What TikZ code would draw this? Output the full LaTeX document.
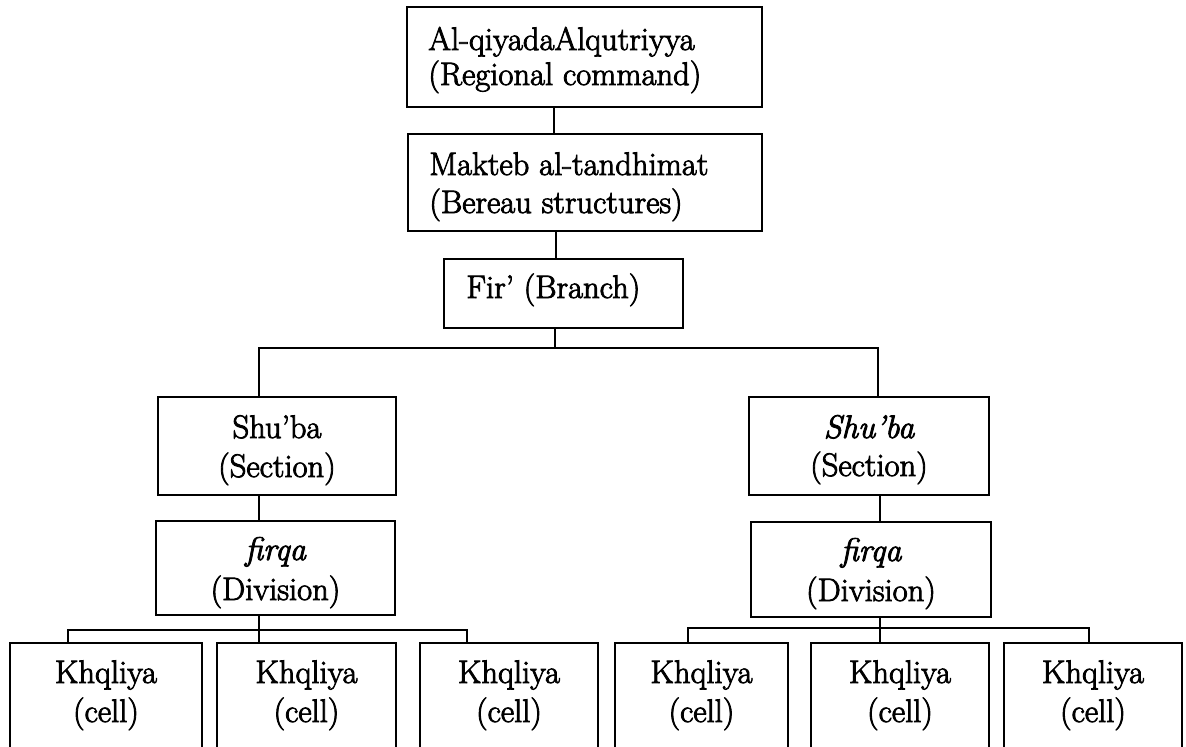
\documentclass[tikz,border=0pt]{standalone}
\usetikzlibrary{calc}
\newcommand\heavytext[1]{\special{pdf:literal direct 2 Tr 0.42 w}#1\special{pdf:literal direct 0 Tr}}
\begin{document}
\begin{tikzpicture}[x=0.5pt,y=-0.5pt,
  box/.style 2 args={draw=black, line width=1pt, rectangle, inner sep=0pt,
    minimum width=#1*0.5pt, minimum height=#2*0.5pt},
  lbl/.style={inner sep=0pt, font=\fontsize{16.3pt}{19pt}\selectfont},
  conn/.style={draw=black, line width=0.9pt}]
\useasboundingbox (0,0) rectangle (1186,746);
\clip (0,0) rectangle (1186,746);
\fill[white] (0,0) rectangle (1186,746);

% boxes
\node[box={355}{100}] (top) at (584.5,57) {};
\node[box={354}{97}]  (mak) at (585,182.5) {};
\node[box={239}{69}]  (fir) at (563.5,293.5) {};
\node[box={238}{98}]  (shuL) at (277,446) {};
\node[box={240}{98}]  (shuR) at (869,446) {};
\node[box={239}{94}]  (frqL) at (275.5,568) {};
\node[box={240}{95}]  (frqR) at (871,569.5) {};
\node[box={192}{117}] (c1) at (106,701.5) {};
\node[box={179}{117}] (c2) at (306.5,701.5) {};
\node[box={178}{117}] (c3) at (509,701.5) {};
\node[box={173}{117}] (c4) at (701.5,701.5) {};
\node[box={178}{117}] (c5) at (900,701.5) {};
\node[box={178}{117}] (c6) at (1093,701.5) {};

% texts
\node[lbl, anchor=base west] (t1a) at (428,50) {\heavytext{Al-qiyadaAlqutriyya}};
\node[lbl, anchor=base west] (t1b) at (428,85) {\heavytext{(Regional command)}};
\node[lbl, anchor=base west] (t2a) at (429,175) {\heavytext{Makteb al-tandhimat}};
\node[lbl, anchor=base west] (t2b) at (429,213) {\heavytext{(Bereau structures)}};
\node[lbl, anchor=base west] (t3) at (466,298) {\heavytext{Fir' (Branch)}};
\node[lbl, anchor=base] (t4a) at (277,438) {\heavytext{Shu'ba}};
\node[lbl, anchor=base] (t4b) at (277,477) {\heavytext{(Section)}};
\node[lbl, anchor=base] (t5a) at (869,438) {\itshape\heavytext{Shu'ba}};
\node[lbl, anchor=base] (t5b) at (869,476) {\heavytext{(Section)}};
\node[lbl, anchor=base] (t6a) at (275.5,560) {\itshape\heavytext{firqa}};
\node[lbl, anchor=base] (t6b) at (275.5,600) {\heavytext{(Division)}};
\node[lbl, anchor=base] (t7a) at (871,561) {\itshape\heavytext{firqa}};
\node[lbl, anchor=base] (t7b) at (871,601) {\heavytext{(Division)}};
\foreach \c/\x in {c1/106,c2/306.5,c3/509,c4/701.5,c5/900,c6/1093}{
  \node[lbl, anchor=base] (\c a) at (\x,683) {\heavytext{Khqliya}};
  \node[lbl, anchor=base] (\c b) at (\x,722) {\heavytext{(cell)}};
}

% connector guide coordinates
\coordinate (x1) at (554,0);
\coordinate (x2) at (556,0);
\coordinate (x3) at (555,0);
\coordinate (xl) at (259,0);
\coordinate (xr) at (878,0);
\coordinate (xr2) at (880,0);
\coordinate (bar) at (0,348);
\coordinate (barL) at (0,630);
\coordinate (barR) at (0,628);
\coordinate (d1) at (68,0);
\coordinate (d3) at (467,0);
\coordinate (d4) at (688,0);
\coordinate (d6) at (1089,0);

% connectors
\draw[conn] (x1 |- top.south) -- (x1 |- mak.north);
\draw[conn] (x2 |- mak.south) -- (x2 |- fir.north);
\draw[conn] (x3 |- fir.south) -- (x3 |- bar);
\draw[conn] (xl |- shuL.north) -- (xl |- bar) -- (xr |- bar) -- (xr |- shuR.north);
\draw[conn] (xl |- shuL.south) -- (xl |- frqL.north);
\draw[conn] (xr2 |- shuR.south) -- (xr2 |- frqR.north);
\draw[conn] (xl |- frqL.south) -- (xl |- c2.north);
\draw[conn] (d1 |- c1.north) -- (d1 |- barL) -- (d3 |- barL) -- (d3 |- c3.north);
\draw[conn] (xr2 |- frqR.south) -- (xr2 |- c5.north);
\draw[conn] (d4 |- c4.north) -- (d4 |- barR) -- (d6 |- barR) -- (d6 |- c6.north);
\end{tikzpicture}
\end{document}
